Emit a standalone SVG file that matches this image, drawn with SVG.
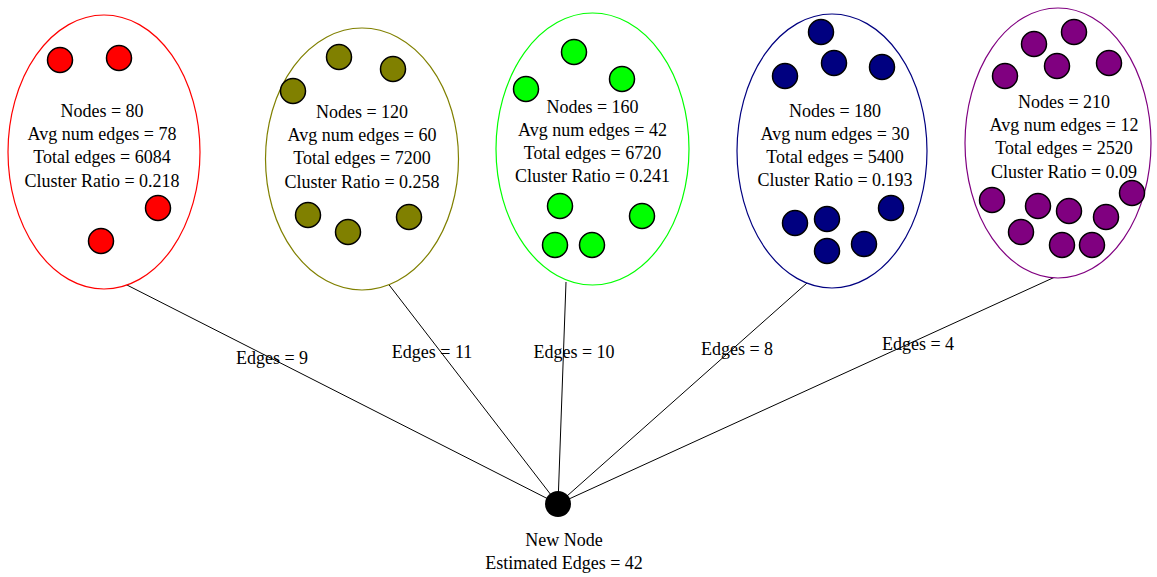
<svg xmlns="http://www.w3.org/2000/svg" width="1157" height="577" viewBox="0 0 1157 577">
  <style>
    text { font-family: "Liberation Serif", "Times New Roman", serif; font-size: 18px; fill: #000; text-anchor: middle; }
    .cluster { fill: #fff; stroke-width: 1.2; }
    .dot { stroke: #000; stroke-width: 1.5; }
    .link { stroke: #000; stroke-width: 1; fill: none; }
    .red { fill: #ff0000; } .olive { fill: #808000; } .lime { fill: #00ff00; } .navy { fill: #000080; } .purple { fill: #800080; }
  </style>
  <rect width="1157" height="577" fill="#fff"/>

  <!-- links from each cluster to the new node -->
  <g id="connectors">
    <line class="link" x1="123" y1="283" x2="558" y2="504"/>
    <line class="link" x1="383" y1="277" x2="558" y2="504"/>
    <line class="link" x1="566" y1="282" x2="558" y2="504"/>
    <line class="link" x1="807" y1="283" x2="558" y2="504"/>
    <line class="link" x1="1055" y1="277" x2="558" y2="504"/>
    <text x="272" y="364">Edges = 9</text>
    <text x="432" y="358">Edges = 11</text>
    <text x="574" y="358">Edges = 10</text>
    <text x="737" y="355">Edges = 8</text>
    <text x="918" y="350">Edges = 4</text>
  </g>

  <g id="cluster-80">
    <ellipse class="cluster" cx="104" cy="152" rx="96" ry="137" stroke="#ff0000"/>
    <g class="red">
      <circle class="dot" cx="60" cy="60" r="12.5"/>
      <circle class="dot" cx="119" cy="58" r="12.5"/>
      <circle class="dot" cx="158" cy="208" r="12.5"/>
      <circle class="dot" cx="101" cy="241" r="12.5"/>
    </g>
    <text x="102" y="117">Nodes = 80</text>
    <text x="102" y="140">Avg num edges = 78</text>
    <text x="102" y="163">Total edges = 6084</text>
    <text x="102" y="187">Cluster Ratio = 0.218</text>
  </g>

  <g id="cluster-120">
    <ellipse class="cluster" cx="362" cy="159" rx="96.5" ry="131" stroke="#808000"/>
    <g class="olive">
      <circle class="dot" cx="339" cy="57" r="12.5"/>
      <circle class="dot" cx="393" cy="69" r="12.5"/>
      <circle class="dot" cx="293" cy="91" r="12.5"/>
      <circle class="dot" cx="308" cy="215" r="12.5"/>
      <circle class="dot" cx="348" cy="232" r="12.5"/>
      <circle class="dot" cx="409" cy="217" r="12.5"/>
    </g>
    <text x="362" y="118">Nodes = 120</text>
    <text x="362" y="141">Avg num edges = 60</text>
    <text x="362" y="164">Total edges = 7200</text>
    <text x="362" y="188">Cluster Ratio = 0.258</text>
  </g>

  <g id="cluster-160">
    <ellipse class="cluster" cx="592.5" cy="149" rx="96.5" ry="136" stroke="#00ff00"/>
    <g class="lime">
      <circle class="dot" cx="574" cy="52" r="12.5"/>
      <circle class="dot" cx="622" cy="79" r="12.5"/>
      <circle class="dot" cx="526" cy="89" r="12.5"/>
      <circle class="dot" cx="560" cy="206" r="12.5"/>
      <circle class="dot" cx="642" cy="216" r="12.5"/>
      <circle class="dot" cx="555" cy="245" r="12.5"/>
      <circle class="dot" cx="592" cy="245" r="12.5"/>
    </g>
    <text x="592.5" y="113">Nodes = 160</text>
    <text x="592.5" y="136">Avg num edges = 42</text>
    <text x="592.5" y="159">Total edges = 6720</text>
    <text x="592.5" y="182">Cluster Ratio = 0.241</text>
  </g>

  <g id="cluster-180">
    <ellipse class="cluster" cx="832" cy="151" rx="95" ry="137" stroke="#000080"/>
    <g class="navy">
      <circle class="dot" cx="821" cy="32" r="12.5"/>
      <circle class="dot" cx="834" cy="63" r="12.5"/>
      <circle class="dot" cx="785" cy="76" r="12.5"/>
      <circle class="dot" cx="882" cy="67" r="12.5"/>
      <circle class="dot" cx="795" cy="223" r="12.5"/>
      <circle class="dot" cx="827" cy="219" r="12.5"/>
      <circle class="dot" cx="891" cy="208" r="12.5"/>
      <circle class="dot" cx="827" cy="251" r="12.5"/>
      <circle class="dot" cx="864" cy="244" r="12.5"/>
    </g>
    <text x="835" y="117">Nodes = 180</text>
    <text x="835" y="140">Avg num edges = 30</text>
    <text x="835" y="163">Total edges = 5400</text>
    <text x="835" y="186">Cluster Ratio = 0.193</text>
  </g>

  <g id="cluster-210">
    <ellipse class="cluster" cx="1058" cy="143" rx="93" ry="135" stroke="#800080"/>
    <g class="purple">
      <circle class="dot" cx="1074" cy="32" r="12.5"/>
      <circle class="dot" cx="1034" cy="44" r="12.5"/>
      <circle class="dot" cx="1057" cy="66" r="12.5"/>
      <circle class="dot" cx="1109" cy="63" r="12.5"/>
      <circle class="dot" cx="1005" cy="76" r="12.5"/>
      <circle class="dot" cx="992" cy="200" r="12.5"/>
      <circle class="dot" cx="1132" cy="193" r="12.5"/>
      <circle class="dot" cx="1038" cy="206" r="12.5"/>
      <circle class="dot" cx="1069" cy="211" r="12.5"/>
      <circle class="dot" cx="1106" cy="217" r="12.5"/>
      <circle class="dot" cx="1021" cy="232" r="12.5"/>
      <circle class="dot" cx="1062" cy="245" r="12.5"/>
      <circle class="dot" cx="1092" cy="245" r="12.5"/>
    </g>
    <text x="1064" y="108">Nodes = 210</text>
    <text x="1064" y="131">Avg num edges = 12</text>
    <text x="1064" y="154">Total edges = 2520</text>
    <text x="1064" y="178">Cluster Ratio = 0.09</text>
  </g>

  <g id="new-node">
    <circle cx="558" cy="504" r="13" fill="#000"/>
    <text x="564" y="546">New Node</text>
    <text x="564" y="569">Estimated Edges = 42</text>
  </g>
</svg>
